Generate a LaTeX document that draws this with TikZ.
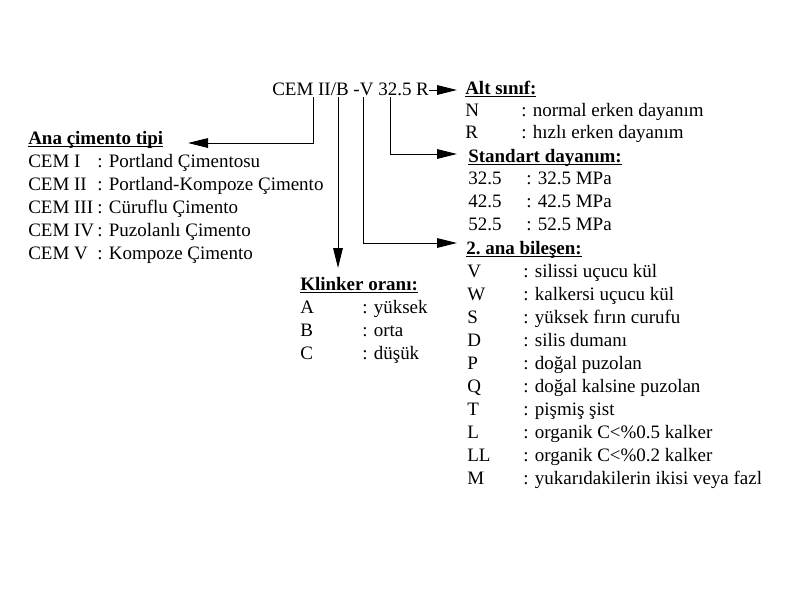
\documentclass[tikz,border=0pt]{standalone}
\usepackage{fontspec}
\setmainfont{Liberation Serif}
\usetikzlibrary{arrows.meta}
\newcommand\yazi{\fontsize{13.5}{16}\selectfont}
\newsavebox\cizgikutu
\newcommand\altcizgi[1]{\sbox\cizgikutu{#1}\rlap{\rule[-2.2pt]{\wd\cizgikutu}{0.8pt}}\usebox\cizgikutu}
\tikzset{
  baslik/.style={anchor=base west, inner sep=0pt, font=\yazi\bfseries},
  satir/.style={anchor=base west, inner sep=0pt, font=\yazi},
  ok/.style={line width=0.7pt, -{Triangle[length=0.5cm, width=0.24cm]}}
}
\begin{document}
\begin{tikzpicture}[x=0.025cm, y=-0.025cm]
        \useasboundingbox (0,0) rectangle (800,600);

        % --- Çimento kodu ---
        \node[satir] (kod) at (272,95) {CEM II/B -V 32.5 R};
        \coordinate (ayakTip) at (313,97);
        \coordinate (ayakKlinker) at (338,97);
        \coordinate (ayakBilesen) at (363,97);
        \coordinate (ayakDayanim) at (390,97);

        % --- Alt sınıf ---
        \node[baslik] (alt) at (465,94) {\altcizgi{Alt sınıf:}};
        \foreach \k/\t [count=\i] in {N/normal erken dayanım, R/hızlı erken dayanım} {
            \node[satir] (altK\i) at (465, 94+22*\i) {\k};
            \node[satir] (altD\i) at (521, 94+22*\i) {: \t};
        }

        % --- Standart dayanım ---
        \node[baslik] (dayanim) at (468,162) {\altcizgi{Standart dayanım:}};
        \foreach \k [count=\i] in {32.5, 42.5, 52.5} {
            \node[satir] (dayK\i) at (468, 161+23*\i) {\k};
            \node[satir] (dayD\i) at (526, 161+23*\i) {: \k{} MPa};
        }

        % --- 2. ana bileşen ---
        \node[baslik] (bilesen) at (466,254) {\altcizgi{2.\ ana bileşen:}};
        \foreach \k/\t [count=\i] in {V/silissi uçucu kül, W/kalkersi uçucu kül,
            S/yüksek fırın curufu, D/silis dumanı, P/doğal puzolan,
            Q/doğal kalsine puzolan, T/pişmiş şist, L/organik C<\%0.5 kalker,
            LL/organik C<\%0.2 kalker} {
            \node[satir] (bilK\i) at (467, 254+23*\i) {\k};
            \node[satir] (bilD\i) at (523, 254+23*\i) {: \t};
        }
        \node[satir] (bilK10) at (467,484) {M};
        \begin{scope}
            \clip (0,0) rectangle (760,600);
            \node[satir] (bilD10) at (523,484) {: yukarıdakilerin ikisi veya fazla};
        \end{scope}

        % --- Ana çimento tipi ---
        \node[baslik] (ana) at (28,144) {\altcizgi{Ana çimento tipi}};
        \foreach \k/\t [count=\i] in {CEM I/Portland Çimentosu, CEM II/Portland-Kompoze Çimento,
            CEM III/Cüruflu Çimento, CEM IV/Puzolanlı Çimento, CEM V/Kompoze Çimento} {
            \node[satir] (anaK\i) at (28, 144+23*\i) {\k};
            \node[satir] (anaD\i) at (97, 144+23*\i) {: \t};
        }

        % --- Klinker oranı ---
        \node[baslik] (klinker) at (300,290) {\altcizgi{Klinker oranı:}};
        \foreach \k/\t [count=\i] in {A/yüksek, B/orta, C/düşük} {
            \node[satir] (klK\i) at (300, 290+23*\i) {\k};
            \node[satir] (klD\i) at (362, 290+23*\i) {: \t};
        }

        % --- Oklar ---
        \coordinate (altUc) at (457,90);
        \coordinate (anaUc) at (188,143);
        \coordinate (klinkerUc) at (338,268);
        \coordinate (dayanimUc) at (457,154);
        \coordinate (bilesenUc) at (457,243);

        \draw[ok] (kod.east |- altUc) -- (altUc);
        \draw[ok] (ayakTip) |- (anaUc);
        \draw[ok] (ayakKlinker) -- (klinkerUc);
        \draw[ok] (ayakBilesen) |- (bilesenUc);
        \draw[ok] (ayakDayanim) |- (dayanimUc);
\end{tikzpicture}
\end{document}
